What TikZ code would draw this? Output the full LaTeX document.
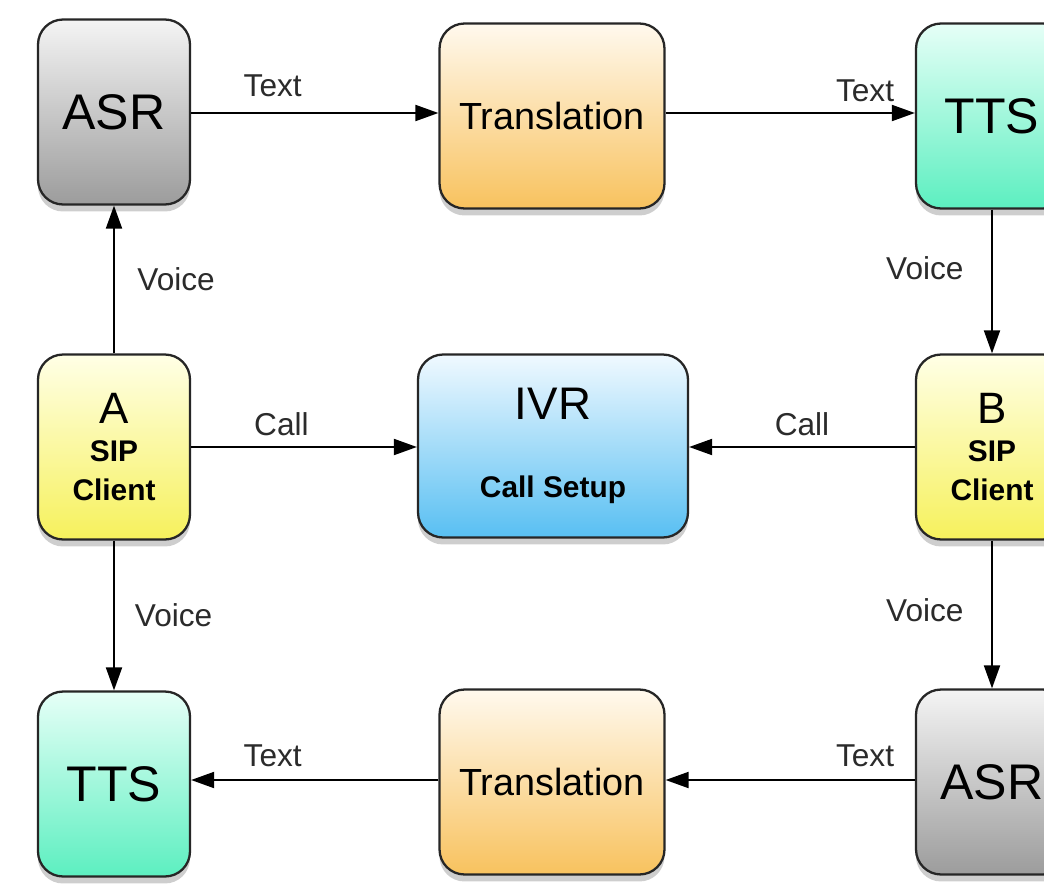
\documentclass[tikz,border=0pt]{standalone}
\usepackage{fontspec}
\setmainfont{Liberation Sans}
\usetikzlibrary{arrows.meta, shadows}
\definecolor{edge}{HTML}{262626}
\definecolor{labgray}{HTML}{2B2B2B}
\definecolor{asrtop}{HTML}{F4F4F4}
\definecolor{asrbot}{HTML}{9C9C9C}
\definecolor{trtop}{HTML}{FFF9EE}
\definecolor{trbot}{HTML}{F8C25E}
\definecolor{ttstop}{HTML}{E6FFF7}
\definecolor{ttsbot}{HTML}{5CEFC0}
\definecolor{siptop}{HTML}{FFFFE6}
\definecolor{sipbot}{HTML}{F6F15C}
\definecolor{ivrtop}{HTML}{F0F9FF}
\definecolor{ivrbot}{HTML}{58BFF2}
\newcommand{\bigsz}{\fontsize{25}{27}\selectfont\mdseries}
\newcommand{\smallsz}{\fontsize{17}{22}\selectfont\bfseries}
\tikzset{
  >={Triangle[length=4.6mm,width=3.2mm]},
  box/.style 2 args={
    draw=edge, line width=1.3pt, rounded corners=0.5cm,
    top color=#1, bottom color=#2, align=center, inner sep=2pt,
    drop shadow={shadow xshift=0pt, shadow yshift=-0.14cm, opacity=0.38}
  },
  asrbox/.style={box={asrtop}{asrbot}, minimum width=3.04cm, minimum height=3.7cm, font=\fontsize{28.5}{31}\selectfont},
  ttsbox/.style={box={ttstop}{ttsbot}, minimum width=3.04cm, minimum height=3.7cm, font=\fontsize{28.5}{31}\selectfont},
  trbox/.style={box={trtop}{trbot}, minimum width=4.5cm, minimum height=3.7cm, font=\fontsize{21.5}{24}\selectfont},
  sipbox/.style={box={siptop}{sipbot}, minimum width=3.04cm, minimum height=3.7cm, font=\smallsz},
  ivrbox/.style={box={ivrtop}{ivrbot}, minimum width=5.4cm, minimum height=3.66cm, font=\smallsz},
  flow/.style={->, line width=1.1pt, draw=black},
  lab/.style={font=\fontsize{18}{20}\selectfont, text=labgray, inner sep=0.2cm}
}

\begin{document}
\begin{tikzpicture}[x=0.02cm, y=-0.02cm]
  \clip (0,0) rectangle (1044,889);
  \fill[white] (0,0) rectangle (1044,889);

  % top row
  \node[asrbox] (asrtop) at (114,112) {ASR};
  \node[trbox] (trtop) at (552,116) {Translation};
  \node[ttsbox] (ttstop) at (992,116) {TTS};

  % middle row
  \node[sipbox] (sipa) at (114,447) {{\bigsz A}\\SIP\\Client};
  \node[ivrbox] (ivr) at (553,446) {{\fontsize{26}{28}\selectfont\mdseries IVR}\\[22pt]Call Setup};
  \node[sipbox] (sipb) at (992,447) {{\bigsz B}\\SIP\\Client};

  % bottom row
  \node[ttsbox] (ttsbot) at (114,784) {TTS};
  \node[trbox] (trbot) at (552,782) {Translation};
  \node[asrbox] (asrbot) at (992,782) {ASR};

  % connectors
  \draw[flow] (asrtop.east |- 0,113) -- node[lab, pos=0.33, above=0.1cm] {Text} (trtop.west |- 0,113);
  \draw[flow] (trtop.east |- 0,113) -- node[lab, pos=0.8, above=0cm] {Text} (ttstop.west |- 0,113);
  \draw[flow] (sipa) -- node[lab, pos=0.5, right=0.25cm] {Voice} (asrtop);
  \draw[flow] (ttstop) -- node[lab, pos=0.41, left=0.35cm] {Voice} (sipb);
  \draw[flow] (sipa) -- node[lab, pos=0.4, above=0cm] {Call} (ivr.west |- sipa);
  \draw[flow] (sipb) -- node[lab, pos=0.5, above=0cm] {Call} (ivr.east |- sipb);
  \draw[flow] (sipa) -- node[lab, pos=0.5, right=0.2cm] {Voice} (ttsbot);
  \draw[flow] (sipb) -- node[lab, pos=0.47, left=0.35cm] {Voice} (asrbot);
  \draw[flow] (asrbot.west |- 0,780) -- node[lab, pos=0.2, above=0.05cm] {Text} (trbot.east |- 0,780);
  \draw[flow] (trbot.west |- 0,780) -- node[lab, pos=0.67, above=0.05cm] {Text} (ttsbot.east |- 0,780);
\end{tikzpicture}
\end{document}
